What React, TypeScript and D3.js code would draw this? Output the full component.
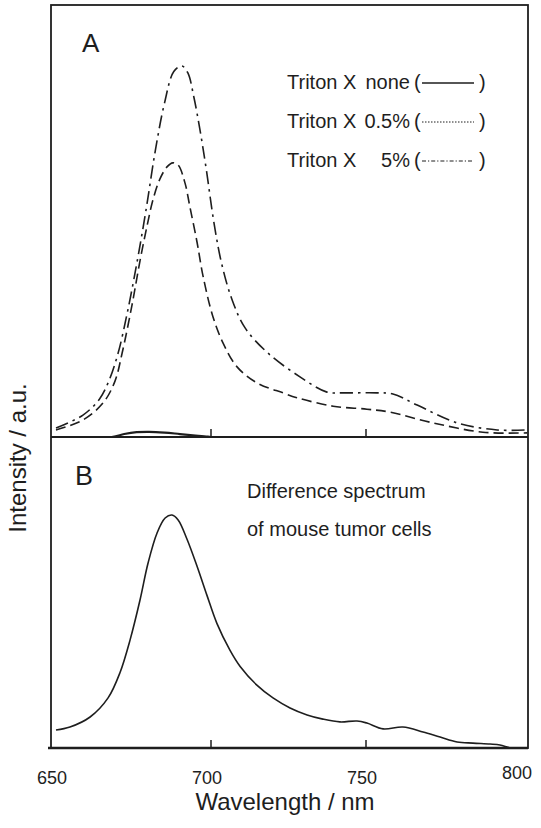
import React from "react";
import * as d3 from "d3";

// ---- Data ----
// Panel A, Triton X 5% (dash-dot)
const wl5 = [650, 658.7, 664, 667, 670, 673, 676, 679, 682, 685, 688, 690.6, 692.5, 694.5, 696.5, 698.5, 701, 703.5, 706.8, 711, 718.4, 728.7, 737.4, 742.6, 753.5, 758.7, 766.5, 779.4, 792.3, 802];
const int5 = [2.4, 5.9, 10.2, 15.0, 22.5, 33.5, 46.5, 61, 77, 90, 98.5, 100, 98.2, 91.5, 82.5, 72, 57.5, 46.5, 37, 29.4, 22.6, 16.2, 12.1, 11.9, 11.9, 11.6, 8.6, 3.8, 1.9, 1.9];
// Panel A, Triton X 0.5% (dashed)
const wl05 = [650, 658.7, 665.2, 669, 671.3, 674.5, 677.1, 679.4, 681.3, 683.5, 685.8, 687.7, 689.4, 691.6, 693.2, 695.5, 697.4, 700.6, 703.9, 708.4, 714.8, 723.2, 727.7, 739.4, 750.3, 757.7, 771.6, 787.7, 802];
const int05 = [1.9, 4.6, 9.2, 15.0, 22.5, 35.5, 47.5, 57, 64, 69.5, 72.8, 73.9, 73.3, 68.5, 62.0, 52.5, 43.5, 32.5, 25.3, 18.9, 14.6, 11.9, 10.6, 8.3, 7.5, 6.7, 3.8, 1.3, 1.1];
// Panel A, Triton X none (solid)
const wlNone = [649, 668, 672, 676, 680, 685, 690, 695, 699, 701, 802];
const intNone = [0, 0, 0.8, 1.3, 1.4, 1.2, 0.8, 0.4, 0.1, 0, 0];
// Panel B, difference spectrum
const wlB = [650, 654.5, 661, 666.8, 670.6, 673.9, 677.1, 679.7, 682.6, 685.2, 687.4, 689.4, 692.3, 695.5, 698.7, 701.9, 706.1, 709.4, 714.8, 720, 725.5, 731, 736.1, 741.6, 747.1, 750.3, 755.5, 761.9, 768.4, 773.9, 779.4, 784.5, 790, 793.2, 795.5, 796.5];
const intB = [7.7, 9.0, 13.3, 21.5, 32.2, 46.4, 63.5, 79.4, 92.3, 98.7, 100, 97.9, 89.5, 78, 65.5, 53.5, 42, 35, 27.0, 21.5, 17.2, 14.2, 12.4, 11.2, 11.6, 10.7, 8.2, 9.0, 6.9, 4.7, 2.6, 2.1, 1.7, 1.3, 0.4, 0];

const xTicks = [650, 700, 750, 800];
const legendLabels = ["none", "0.5%", "5%"];

const W = 541;
const H = 828;
const INK = "#1e1e1e";
const FONT = "'Liberation Sans', Arial, Helvetica, sans-serif";

export default function App() {
  const frame = { left: 51, right: 528, top: 5, mid: 437, bottom: 748 };
  const x = d3.scaleLinear().domain([650, 800]).range([56, 521]);
  const yA = d3.scaleLinear().domain([0, 100]).range([frame.mid, 66]);
  const yB = d3.scaleLinear().domain([0, 100]).range([frame.bottom, 515]);

  const mk = (wl: number[], v: number[], y: d3.ScaleLinear<number, number>) => {
    const pts = wl.map((w, i) => [w, v[i]] as [number, number]);
    return d3
      .line<[number, number]>()
      .x((d) => x(d[0]))
      .y((d) => y(d[1]))
      .curve(d3.curveCatmullRom.alpha(0.5))(pts) as string;
  };

  const p5 = mk(wl5, int5, yA);
  const p05 = mk(wl05, int05, yA);
  const pNone = mk(wlNone, intNone, yA);
  const pB = mk(wlB, intB, yB);

  const legendY = [89, 128, 167];
  const legendDash = [null, "1.5,1.5", "4,2,1.2,2"];

  return (
    <svg
      width={W}
      height={H}
      style={{ position: "absolute", left: 0, top: 0, background: "#fff" }}
      fontFamily={FONT}
    >
      <rect x={0} y={0} width={W} height={H} fill="#fff" />
      <defs>
        <clipPath id="clipA">
          <rect x={frame.left} y={frame.top} width={frame.right - frame.left} height={frame.mid - frame.top} />
        </clipPath>
        <clipPath id="clipB">
          <rect x={frame.left} y={frame.mid} width={frame.right - frame.left} height={frame.bottom - frame.mid} />
        </clipPath>
      </defs>

      {/* curves */}
      <g clipPath="url(#clipA)" fill="none" stroke={INK}>
        <path d={p05} strokeWidth={1.6} strokeDasharray="10,5" />
        <path d={p5} strokeWidth={1.6} strokeDasharray="13,5,2.5,5" />
        <path d={pNone} strokeWidth={2.2} />
      </g>
      <g clipPath="url(#clipB)" fill="none" stroke={INK}>
        <path d={pB} strokeWidth={1.6} />
      </g>

      {/* frame */}
      <rect
        x={frame.left}
        y={frame.top}
        width={frame.right - frame.left}
        height={frame.bottom - frame.top}
        fill="none"
        stroke={INK}
        strokeWidth={1.8}
      />
      <line x1={frame.left} x2={frame.right} y1={frame.mid} y2={frame.mid} stroke={INK} strokeWidth={2.2} />
      <line x1={frame.left - 3} x2={frame.right} y1={frame.bottom} y2={frame.bottom} stroke={INK} strokeWidth={2.4} />

      {/* ticks */}
      {xTicks.slice(1, 3).map((t) => (
        <g key={t} stroke={INK} strokeWidth={1.5}>
          <line x1={x(t)} x2={x(t)} y1={frame.mid} y2={frame.mid - 8} />
          <line x1={x(t)} x2={x(t)} y1={frame.bottom} y2={frame.bottom - 8} />
        </g>
      ))}

      {/* tick labels */}
      {xTicks.map((t) => (
        <text key={t} x={x(t) - 4} y={t === 800 ? 779 : 784} textAnchor="middle" fontSize={18} fill={INK}>
          {t}
        </text>
      ))}
      <text x={285} y={810} textAnchor="middle" fontSize={24} fill={INK}>
        Wavelength / nm
      </text>
      <text
        transform="translate(26,458) rotate(-90)"
        textAnchor="middle"
        fontSize={24}
        fill={INK}
      >
        Intensity / a.u.
      </text>

      {/* panel labels */}
      <text x={82} y={52} fontSize={26} fill={INK}>A</text>
      <text x={75} y={485} fontSize={27} fill={INK}>B</text>

      {/* legend */}
      {legendLabels.map((lab, i) => (
        <g key={lab} fill={INK} fontSize={20}>
          <text x={287} y={legendY[i]}>Triton X</text>
          <text x={410} y={legendY[i]} textAnchor="end">{lab}</text>
          <text x={414} y={legendY[i]}>(</text>
          <line
            x1={422}
            x2={474}
            y1={legendY[i] - 6}
            y2={legendY[i] - 6}
            stroke={INK}
            strokeWidth={i === 0 ? 1.6 : 1}
            strokeDasharray={legendDash[i] ?? undefined}
          />
          <text x={479} y={legendY[i]}>)</text>
        </g>
      ))}

      {/* panel B annotation */}
      <text x={247} y={498} fontSize={20} fill={INK}>Difference spectrum</text>
      <text x={247} y={536} fontSize={20} fill={INK}>of mouse tumor cells</text>
    </svg>
  );
}
